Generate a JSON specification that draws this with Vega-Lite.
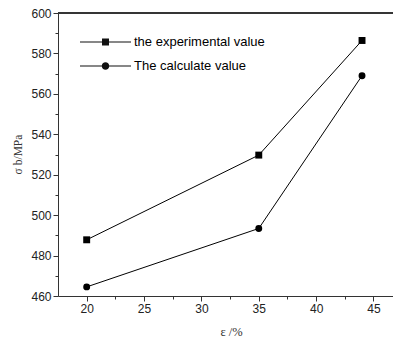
{
  "$schema": "https://vega.github.io/schema/vega-lite/v6.json",
  "width": 335,
  "height": 283,
  "autosize": "none",
  "padding": {"left": 58, "top": 13, "right": 0, "bottom": 42},
  "background": "white",
  "config": {
    "view": {"stroke": null},
    "axis": {
      "labelFont": "Liberation Sans",
      "labelFontSize": 12,
      "labelColor": "#222",
      "domainColor": "#333",
      "tickColor": "#333",
      "grid": false,
      "titleFont": "Liberation Serif",
      "titleFontWeight": "normal",
      "titleColor": "#333"
    }
  },
  "data": {
    "values": [
      {"eps": 20, "sigma": 487.8, "series": "the experimental value"},
      {"eps": 35, "sigma": 529.7, "series": "the experimental value"},
      {"eps": 44, "sigma": 586.4, "series": "the experimental value"},
      {"eps": 20, "sigma": 464.5, "series": "The calculate value"},
      {"eps": 35, "sigma": 493.4, "series": "The calculate value"},
      {"eps": 44, "sigma": 569.0, "series": "The calculate value"}
    ]
  },
  "resolve": {"axis": {"x": "independent", "y": "independent"}, "scale": {"shape": "independent"}},
  "layer": [
    {
      "mark": {"type": "line", "color": "black", "strokeWidth": 1},
      "encoding": {
        "x": {"field": "eps", "type": "quantitative",
              "scale": {"domain": [17.5, 46.7], "nice": false, "zero": false},
              "axis": {"orient": "bottom", "values": [20, 25, 30, 35, 40, 45], "tickSize": 5, "labelPadding": 2, "title": "ε /%", "titleFontSize": 12.5, "titlePadding": 11, "titleX": 173}},
        "y": {"field": "sigma", "type": "quantitative",
              "scale": {"domain": [460, 600], "nice": false, "zero": false},
              "axis": {"orient": "left", "values": [460, 480, 500, 520, 540, 560, 580, 600], "tickSize": 5, "labelPadding": 2, "title": "σ b/MPa", "titleFontSize": 11.5, "titlePadding": 7, "titleY": 141, "titleAlign": "center"}},
        "detail": {"field": "series"}
      }
    },
    {
      "mark": {"type": "point", "filled": true, "opacity": 1, "color": "black", "size": 48},
      "encoding": {
        "x": {"field": "eps", "type": "quantitative",
              "axis": {"orient": "bottom", "values": [22.5, 27.5, 32.5, 37.5, 42.5], "tickSize": 3, "labels": false, "domain": false, "title": null}},
        "y": {"field": "sigma", "type": "quantitative",
              "axis": {"orient": "left", "values": [470, 490, 510, 530, 550, 570, 590], "tickSize": 3, "labels": false, "domain": false, "title": null}},
        "shape": {"field": "series", "type": "nominal",
                  "scale": {"domain": ["the experimental value", "The calculate value"], "range": ["square", "circle"]},
                  "legend": null}
      }
    },
    {
      "mark": {"type": "point", "filled": true, "fill": "#111", "opacity": 1, "size": 0},
      "encoding": {
        "x": {"field": "eps", "type": "quantitative", "axis": null},
        "y": {"field": "sigma", "type": "quantitative", "axis": null},
        "shape": {"field": "series", "type": "nominal",
                  "scale": {"domain": ["the experimental value", "The calculate value"],
                            "range": ["M-3,-0.07L3,-0.07L3,0.07L-3,0.07ZM-0.41,-0.41L0.41,-0.41L0.41,0.41L-0.41,0.41Z", "M-3,-0.07L3,-0.07L3,0.07L-3,0.07ZM0.44,0A0.44,0.44 0 1,1 -0.44,0A0.44,0.44 0 1,1 0.44,0Z"]},
                  "legend": {
                    "orient": "none", "legendX": 39, "legendY": 20.5, "title": null, "padding": 0,
                    "labelFont": "Liberation Sans", "labelFontSize": 13, "labelColor": "black", "labelOffset": 20,
                    "symbolSize": 289, "symbolStrokeWidth": 0, "symbolFillColor": "#111", "symbolOpacity": 1,
                    "rowPadding": 8
                  }}
      }
    },
    {
      "mark": {"type": "rule", "color": "#333", "strokeWidth": 1},
      "encoding": {"y": {"datum": 600, "type": "quantitative", "axis": null}}
    }
  ]
}
